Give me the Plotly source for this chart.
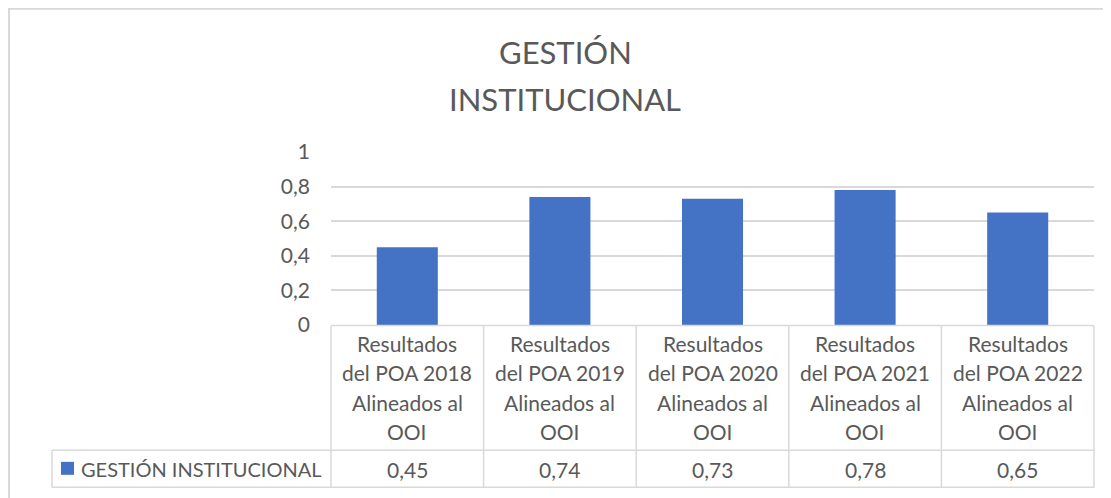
import plotly.graph_objects as go

# ---- data ----
categories = [
    "Resultados del POA 2018 Alineados al OOI",
    "Resultados del POA 2019 Alineados al OOI",
    "Resultados del POA 2020 Alineados al OOI",
    "Resultados del POA 2021 Alineados al OOI",
    "Resultados del POA 2022 Alineados al OOI",
]
cat_lines = [
    ["Resultados", "del POA 2018", "Alineados al", "OOI"],
    ["Resultados", "del POA 2019", "Alineados al", "OOI"],
    ["Resultados", "del POA 2020", "Alineados al", "OOI"],
    ["Resultados", "del POA 2021", "Alineados al", "OOI"],
    ["Resultados", "del POA 2022", "Alineados al", "OOI"],
]
values = [0.45, 0.74, 0.73, 0.78, 0.65]
series_name = "GESTIÓN INSTITUCIONAL"
title_lines = ["GESTIÓN", "INSTITUCIONAL"]
y_tickvals = [0, 0.2, 0.4, 0.6, 0.8, 1]
y_ticktext = ["0", "0,2", "0,4", "0,6", "0,8", "1"]

# ---- geometry (screen pixels; the page body has an 8px margin) ----
OFF = 8
W, H = 1111 - OFF, 498 - OFF
PX0, PX1 = 331, 1094      # plot area x (screen)
PY0, PY1 = 152.3, 325.5   # plot area y (screen, top, bottom)
FONT = "Lato"
TXT = "#595959"
GRID = "#d9d9d9"
BAR = "#4472C4"


def px2x(px):
    return (px - PX0) / (PX1 - PX0)


def py2y(py):
    return (PY1 - py) / (PY1 - PY0)


n = len(categories)
colw = (PX1 - PX0) / n

fig = go.Figure()
fig.add_trace(go.Bar(
    x=list(range(n)), y=values, name=series_name,
    marker=dict(color=BAR, line=dict(width=0)),
    width=0.4, showlegend=False, hoverinfo="y",
))

shapes = []
# outer chart border (only top/left visible)
shapes.append(dict(type="rect", xref="paper", yref="paper",
                   x0=px2x(9), x1=px2x(1130), y0=py2y(520), y1=py2y(9),
                   line=dict(color=GRID, width=2), fillcolor="rgba(0,0,0,0)", layer="below"))
# table lines
TB_TOP, TB_MID, TB_BOT, TB_LEFT = 326, 451, 488, 52
shapes.append(dict(type="line", xref="paper", yref="paper",
                   x0=0, x1=1, y0=py2y(TB_TOP), y1=py2y(TB_TOP), line=dict(color=GRID, width=1.5)))
for py in (TB_MID, TB_BOT):
    shapes.append(dict(type="line", xref="paper", yref="paper",
                       x0=px2x(TB_LEFT), x1=1, y0=py2y(py), y1=py2y(py), line=dict(color=GRID, width=1.5)))
for i in range(n + 1):
    xx = px2x(PX0 + i * colw)
    shapes.append(dict(type="line", xref="paper", yref="paper",
                       x0=xx, x1=xx, y0=py2y(TB_TOP), y1=py2y(TB_BOT), line=dict(color=GRID, width=1.5)))
shapes.append(dict(type="line", xref="paper", yref="paper",
                   x0=px2x(TB_LEFT), x1=px2x(TB_LEFT), y0=py2y(TB_MID), y1=py2y(TB_BOT),
                   line=dict(color=GRID, width=1.5)))
# legend key
shapes.append(dict(type="rect", xref="paper", yref="paper",
                   x0=px2x(61), x1=px2x(74), y0=py2y(475.5), y1=py2y(462.5),
                   line=dict(width=0), fillcolor=BAR))

annotations = []
for tl, cy in zip(title_lines, (52, 99)):
    annotations.append(dict(text=tl, xref="paper", yref="paper", x=px2x(565), y=py2y(cy),
                            showarrow=False, xanchor="center", yanchor="middle",
                            font=dict(family=FONT, size=31, color=TXT)))
line_y = [344, 373.5, 403, 432.5]
for i, lines in enumerate(cat_lines):
    for ln, ly in zip(lines, line_y):
        annotations.append(dict(text=ln, xref="x", yref="paper", x=i, y=py2y(ly),
                                showarrow=False, xanchor="center", yanchor="middle",
                                font=dict(family=FONT, size=21, color=TXT)))
for i, v in enumerate(values):
    annotations.append(dict(text=f"{v:.2f}".replace(".", ","), xref="x", yref="paper", x=i,
                            y=py2y(470), showarrow=False, xanchor="center", yanchor="middle",
                            font=dict(family=FONT, size=21, color=TXT)))
annotations.append(dict(text=series_name, xref="paper", yref="paper", x=px2x(79), y=py2y(469.5),
                        showarrow=False, xanchor="left", yanchor="middle",
                        font=dict(family=FONT, size=20, color=TXT)))

fig.update_layout(
    width=W, height=H,
    margin=dict(l=PX0 - OFF, r=W - (PX1 - OFF), t=PY0 - OFF, b=H - (PY1 - OFF), pad=0),
    paper_bgcolor="white", plot_bgcolor="white",
    separators=",.",
    font=dict(family=FONT, color=TXT),
    xaxis=dict(range=[-0.5, n - 0.5], showticklabels=False, showgrid=False,
               zeroline=False, showline=False, ticks=""),
    yaxis=dict(range=[0, 1], tickvals=y_tickvals, ticktext=y_ticktext,
               showgrid=True, gridcolor=GRID, gridwidth=1.5, zeroline=False,
               showline=False, ticks="", ticklabelstandoff=20,
               tickfont=dict(family=FONT, size=21, color=TXT)),
    shapes=shapes, annotations=annotations,
    bargap=0.6,
)

fig.write_html("out.html")
